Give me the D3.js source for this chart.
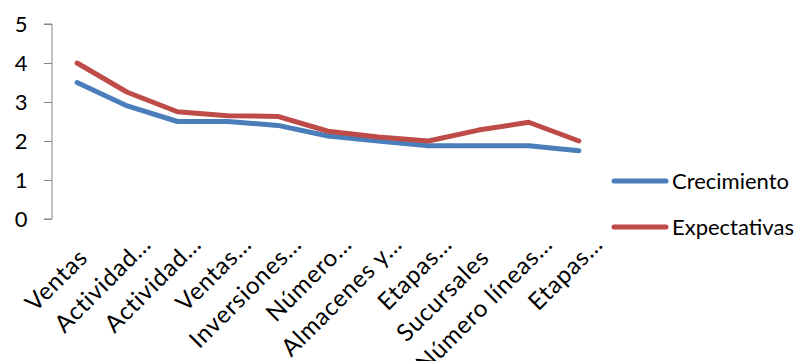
<!DOCTYPE html>
<html>
<head>
<meta charset="utf-8">
<script src="https://cdn.jsdelivr.net/npm/d3@7"></script>
<style>
  html, body { margin: 0; padding: 0; background: #fff; }
  svg { display: block; }
  text { font-family: Lato, "Open Sans", sans-serif; fill: #000; }
</style>
</head>
<body>
<svg id="chart" width="796" height="361"></svg>
<script>
const categories = ["Ventas", "Actividad…", "Actividad…", "Ventas…", "Inversiones…", "Número…",
  "Almacenes y…", "Etapas…", "Sucursales", "Número líneas…", "Etapas…"];
const crecimiento = [3.5, 2.9, 2.5, 2.5, 2.4, 2.13, 2.0, 1.88, 1.88, 1.88, 1.75];
const expectativas = [4.0, 3.25, 2.75, 2.65, 2.63, 2.25, 2.1, 2.0, 2.28, 2.48, 2.0];
const yTicks = [0, 1, 2, 3, 4, 5];
const seriesNames = ["Crecimiento", "Expectativas"];
const seriesColors = ["#4a7ebb", "#be4b48"];

const svg = d3.select("#chart");
const plotLeft = 52, plotRight = 604, plotTop = 24, plotBottom = 219;
const fontSize = "22px";
const labelSize = "24px";
const labelSpacing = "0.8px";

const x = d3.scaleBand().domain(d3.range(categories.length)).range([plotLeft, plotRight]);
const y = d3.scaleLinear().domain([0, 5]).range([plotBottom, plotTop]);

// Y axis
const yAxis = svg.append("g").attr("transform", `translate(${plotLeft},0)`)
  .call(d3.axisLeft(y).tickValues(yTicks).tickSize(8).tickPadding(14).tickFormat(d3.format("d")));
yAxis.select(".domain").attr("stroke", "#868686").attr("d", `M-8,${plotTop}H0V${plotBottom}H-8`);
yAxis.selectAll(".tick line").attr("stroke", "#868686");
yAxis.selectAll(".tick text").style("font-size", fontSize).attr("text-anchor", "middle").attr("x", -31);

// Width of a trailing ellipsis, so truncated labels keep their last letter at the tick
const probe = svg.append("text").style("font-size", labelSize).style("letter-spacing", labelSpacing).text("…");
const ellipsisW = probe.node().getComputedTextLength();
probe.remove();

// X labels, rotated
const k45 = Math.SQRT1_2;
svg.append("g").selectAll("text").data(categories).join("text")
  .attr("transform", (d, i) => {
    const extra = d.endsWith("…") ? ellipsisW : 0;
    const cx = x(i) + x.bandwidth() / 2 + 12 + extra * k45;
    const cy = plotBottom + 40 - extra * k45;
    return `translate(${cx},${cy}) rotate(-45)`;
  })
  .attr("text-anchor", "end")
  .style("font-size", labelSize)
  .style("letter-spacing", labelSpacing)
  .text(d => d);

// Lines
const line = d3.line().x((d, i) => x(i) + x.bandwidth() / 2).y(d => y(d));
[crecimiento, expectativas].forEach((s, k) => {
  svg.append("path").datum(s)
    .attr("d", line)
    .attr("fill", "none")
    .attr("stroke", seriesColors[k])
    .attr("stroke-width", 5)
    .attr("stroke-linecap", "round")
    .attr("stroke-linejoin", "round");
});

// Legend
const legend = svg.append("g");
seriesNames.forEach((name, k) => {
  const ly = 181 + k * 46;
  legend.append("line").attr("x1", 614).attr("x2", 666).attr("y1", ly).attr("y2", ly)
    .attr("stroke", seriesColors[k]).attr("stroke-width", 5).attr("stroke-linecap", "round");
  legend.append("text").attr("x", 672).attr("y", ly).attr("dy", "0.35em")
    .style("font-size", fontSize).text(name);
});
</script>
</body>
</html>
